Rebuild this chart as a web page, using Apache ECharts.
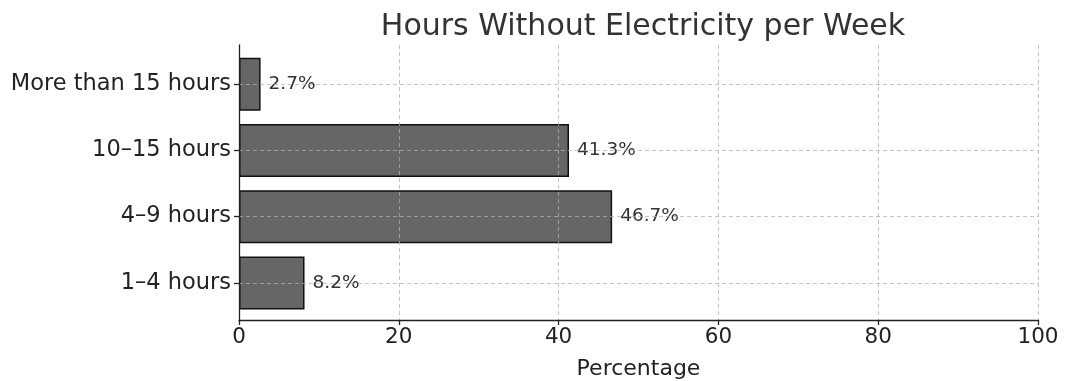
<!DOCTYPE html>
<html>
<head>
<meta charset="utf-8">
<script src="https://cdn.jsdelivr.net/npm/echarts@6/dist/echarts.min.js"></script>
<style>html,body{margin:0;padding:0;background:#fff}#c{width:1067px;height:381px}</style>
</head>
<body>
<div id="c"></div>
<script>
const categories = ['1–4 hours', '4–9 hours', '10–15 hours', 'More than 15 hours'];
const values = [8.2, 46.7, 41.3, 2.7];
const xTicks = [0, 20, 40, 60, 80, 100];
const titleText = 'Hours Without Electricity per Week';
const xName = 'Percentage';

const FONT = 'DejaVu Sans';
const gridLine = { show: true, lineStyle: { color: 'rgba(176,176,176,0.75)', type: [4, 3], width: 1 } };

const chart = echarts.init(document.getElementById('c'), null, { renderer: 'canvas' });
chart.setOption({
  animation: false,
  backgroundColor: '#fff',
  textStyle: { fontFamily: FONT },
  title: {
    text: titleText, left: 638, top: 7, textAlign: 'center',
    textStyle: { fontFamily: FONT, fontSize: 30, fontWeight: 'normal', color: '#333' }
  },
  grid: [
    { left: 239, right: 29, top: 51, bottom: 65, outerBoundsMode: 'none', containLabel: false },
    { left: 239, right: 29, top: 45, bottom: 61, outerBoundsMode: 'none', containLabel: false }
  ],
  xAxis: [
    { gridIndex: 0, type: 'value', min: xTicks[0], max: xTicks[xTicks.length - 1], interval: 20,
      axisLine: { show: false }, axisTick: { show: false }, axisLabel: { show: false }, splitLine: { show: false } },
    { gridIndex: 1, type: 'value', min: xTicks[0], max: xTicks[xTicks.length - 1], interval: 20, zlevel: 1,
      axisLine: { show: true, onZero: false, lineStyle: { color: '#222', width: 1.3 } },
      axisTick: { show: true, length: 5, lineStyle: { color: '#222', width: 1.3 } },
      axisLabel: { fontFamily: FONT, fontSize: 21.5, color: '#222', margin: 6 },
      splitLine: gridLine,
      name: xName, nameLocation: 'middle', nameGap: 38,
      nameTextStyle: { fontFamily: FONT, fontSize: 22, color: '#222' } }
  ],
  yAxis: [
    { gridIndex: 0, type: 'category', data: categories, zlevel: 1,
      axisLine: { show: false },
      axisTick: { show: true, alignWithLabel: true, length: 5, lineStyle: { color: '#222', width: 1.3 } },
      axisLabel: { fontFamily: FONT, fontSize: 22.5, color: '#222', margin: 8 },
      splitLine: Object.assign({ alignWithLabel: true }, gridLine) },
    { gridIndex: 1, type: 'category', data: categories, zlevel: 1,
      axisLine: { show: true, lineStyle: { color: '#222', width: 1.3 } },
      axisTick: { show: false }, axisLabel: { show: false }, splitLine: { show: false } }
  ],
  series: [{
    type: 'bar', xAxisIndex: 0, yAxisIndex: 0, data: values, barWidth: '80%',
    itemStyle: { color: '#666666', borderColor: '#111', borderWidth: 1.5 },
    label: { show: true, position: 'right', distance: 8, formatter: p => p.value + '%',
      fontFamily: FONT, fontSize: 18.5, color: '#333' }
  }]
});
</script>
</body>
</html>
